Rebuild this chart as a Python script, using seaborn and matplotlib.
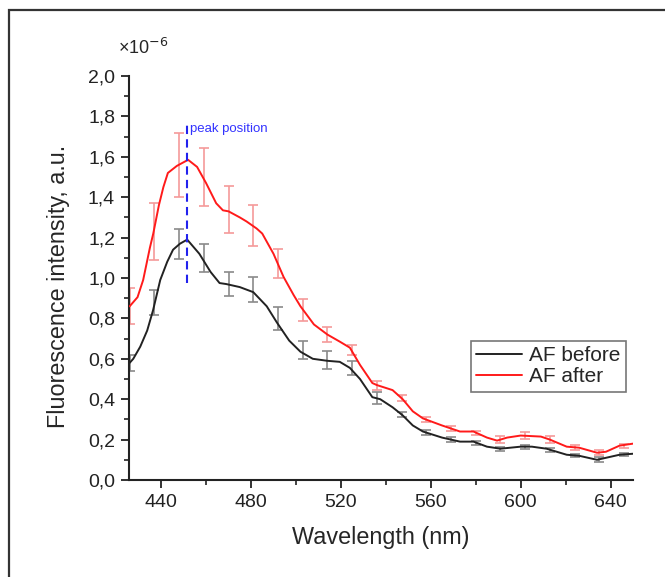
import matplotlib
matplotlib.use("Agg")
import matplotlib.pyplot as plt
import matplotlib.patches as mpatches
from matplotlib.ticker import MultipleLocator, FuncFormatter
import seaborn as sns
import pandas as pd

# Curva "AF before" (longitud de onda, intensidad x1e-6)
wl_before = [426, 427.6, 430.7, 433.8, 436.4, 439.6, 442.7, 445.3, 448.4, 451.6,
             457, 462, 466, 469, 475, 481, 487, 491.5, 497, 502, 507.5, 514,
             519.5, 524, 528.5, 534, 537.5, 543, 547.5, 552, 556.5, 565, 573,
             579, 585, 591, 600, 605, 611.5, 620.5, 626, 634, 638, 644, 650]
int_before = [0.58, 0.60, 0.66, 0.74, 0.84, 0.99, 1.08, 1.14, 1.17, 1.19,
              1.12, 1.03, 0.975, 0.97, 0.955, 0.93, 0.86, 0.78, 0.69, 0.635, 0.60, 0.59,
              0.585, 0.555, 0.50, 0.41, 0.40, 0.36, 0.32, 0.27, 0.24, 0.21, 0.19,
              0.19, 0.165, 0.155, 0.165, 0.165, 0.155, 0.125, 0.12, 0.10, 0.11, 0.125, 0.13]

# Curva "AF after"
wl_after = [426, 429.5, 432, 435, 436.5, 439, 441, 443, 447, 452, 456, 460,
            464.5, 467.5, 470, 475, 478, 482.5, 485, 490, 494.5, 499, 502, 508,
            514, 519.5, 524, 528.5, 534, 536, 543, 547.5, 552, 556.5, 565, 573,
            579, 585, 589.5, 594, 600, 609, 613, 620.5, 626, 634, 638, 644, 650]
int_after = [0.86, 0.905, 0.99, 1.15, 1.22, 1.36, 1.45, 1.52, 1.555, 1.585, 1.55, 1.47,
             1.37, 1.335, 1.33, 1.30, 1.28, 1.245, 1.22, 1.12, 1.005, 0.915, 0.86, 0.77,
             0.72, 0.685, 0.655, 0.57, 0.48, 0.47, 0.445, 0.40, 0.34, 0.305, 0.27, 0.24,
             0.24, 0.21, 0.195, 0.21, 0.22, 0.215, 0.20, 0.165, 0.16, 0.135, 0.14, 0.17, 0.18]

# Barras de error
wl_err = [426, 437, 448, 459, 470, 481, 492, 503, 514, 525, 536,
          547, 558, 569, 580, 591, 602, 613, 624, 635, 646]
before_err_mid = [0.58, 0.88, 1.17, 1.10, 0.97, 0.945, 0.80, 0.645, 0.595, 0.555, 0.405,
                  0.325, 0.235, 0.20, 0.185, 0.155, 0.165, 0.15, 0.12, 0.10, 0.125]
before_err = [0.04, 0.062, 0.075, 0.07, 0.06, 0.062, 0.055, 0.045, 0.045, 0.035, 0.03,
              0.013, 0.013, 0.012, 0.01, 0.01, 0.01, 0.01, 0.008, 0.012, 0.008]
after_err_mid = [0.86, 1.23, 1.56, 1.50, 1.34, 1.26, 1.07, 0.84, 0.72, 0.645, 0.47,
                 0.405, 0.30, 0.255, 0.235, 0.20, 0.22, 0.20, 0.16, 0.135, 0.17]
after_err = [0.09, 0.14, 0.16, 0.145, 0.115, 0.10, 0.072, 0.055, 0.037, 0.025, 0.022,
             0.016, 0.012, 0.012, 0.01, 0.018, 0.016, 0.016, 0.012, 0.012, 0.01]

peak_wl = 451.5

df_before = pd.DataFrame({"wl": wl_before, "val": int_before})
df_after = pd.DataFrame({"wl": wl_after, "val": int_after})

sns.set_style("ticks")
plt.rcParams["font.family"] = ["Liberation Sans", "DejaVu Sans"]

fig = plt.figure(figsize=(6.65, 5.77), dpi=100)
ax = fig.add_axes([129 / 665, 97 / 577, 504 / 665, 404 / 577])

# marco exterior
fig.patches.append(mpatches.Rectangle((9 / 665, -0.1), 1.2, 1.1 - 10 / 577,
                                      transform=fig.transFigure, fill=False,
                                      edgecolor="#333333", linewidth=1.6))

ax.errorbar(wl_err, before_err_mid, yerr=before_err, fmt="none",
            ecolor="#8a8a8a", elinewidth=1.2, capsize=3.5, capthick=1.2, zorder=2)
ax.errorbar(wl_err, after_err_mid, yerr=after_err, fmt="none",
            ecolor="#f59a9a", elinewidth=1.2, capsize=3.5, capthick=1.2, zorder=2)

sns.lineplot(data=df_before, x="wl", y="val", ax=ax, color="#222222",
             linewidth=1.4, label="AF before", zorder=3)
sns.lineplot(data=df_after, x="wl", y="val", ax=ax, color="#ff1a1a",
             linewidth=1.4, label="AF after", zorder=3)

ax.plot([peak_wl, peak_wl], [0.975, 1.77], color="#2222ee", linestyle=(0, (4, 2.5)),
        linewidth=1.5, zorder=4)
ax.text(peak_wl + 1.5, 1.74, "peak position", color="#3333ff", fontsize=9.5,
        va="center", ha="left")

ax.set_xlim(425.7, 650)
ax.set_ylim(0, 2.0)
ax.xaxis.set_major_locator(MultipleLocator(40))
ax.xaxis.set_minor_locator(MultipleLocator(20))
ax.yaxis.set_major_locator(MultipleLocator(0.2))
ax.yaxis.set_minor_locator(MultipleLocator(0.1))
ax.yaxis.set_major_formatter(FuncFormatter(lambda v, p: f"{v:.1f}".replace(".", ",")))

ax.tick_params(which="major", direction="out", length=6, width=1.3, labelsize=14,
               colors="#222222", pad=4)
ax.tick_params(which="minor", direction="out", length=3.5, width=1.2, colors="#222222")
for s in ["left", "bottom"]:
    ax.spines[s].set_linewidth(1.5)
    ax.spines[s].set_color("#222222")
sns.despine(ax=ax)

ax.set_xlabel("Wavelength (nm)", fontsize=16.8)
ax.set_ylabel("Fluorescence intensity, a.u.", fontsize=16.8)
ax.xaxis.set_label_coords(0.5, -0.114)
ax.yaxis.set_label_coords(-0.117, 0.48)
ax.text(-0.022, 1.07, "×10$^{-6}$", transform=ax.transAxes, fontsize=13,
        ha="left", va="center")

leg = ax.legend(loc="upper right", bbox_to_anchor=(0.986, 0.344), fontsize=15,
                frameon=True, fancybox=False, handlelength=2.2, borderpad=0.25,
                labelspacing=0.1, handletextpad=0.35, borderaxespad=0)
leg.get_frame().set_edgecolor("#555555")
leg.get_frame().set_linewidth(1.2)

fig.savefig("out.png", dpi=100)
